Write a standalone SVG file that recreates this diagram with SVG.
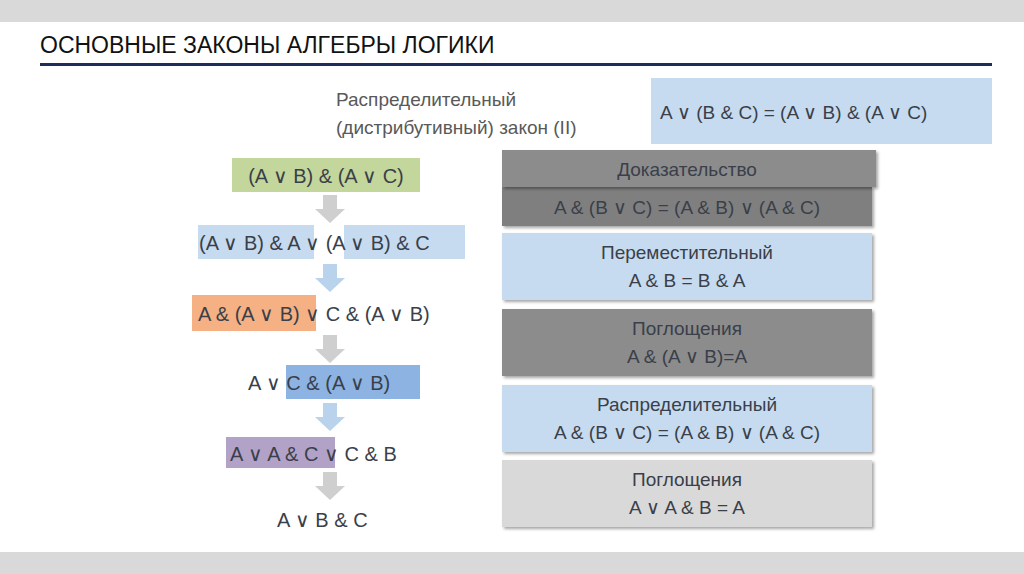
<svg xmlns="http://www.w3.org/2000/svg" width="1024" height="574" viewBox="0 0 1024 574">
<defs>
<style>
text{font-family:"Liberation Sans",Arial,sans-serif;fill:#3a3f4a}
.c{font-size:20px}
.r{font-size:19px;text-anchor:middle}
</style>
<path id="arr" d="M-7,0 H7 V14 H15 L0,28 L-15,14 H-7 Z"/>
<filter id="sh" x="-5%" y="-10%" width="115%" height="130%"><feDropShadow dx="2" dy="2" stdDeviation="1.5" flood-opacity="0.35"/></filter>
</defs>
<rect width="1024" height="574" fill="#fff"/>
<rect width="1024" height="22" fill="#d9d9d9"/>
<rect y="552" width="1024" height="22" fill="#d9d9d9"/>
<text x="40" y="53" style="font-size:23px;fill:#111">ОСНОВНЫЕ ЗАКОНЫ АЛГЕБРЫ ЛОГИКИ</text>
<rect x="40" y="63" width="952" height="3" fill="#1f2d5a"/>
<g id="law-title"><text x="336" y="106" style="font-size:19px;fill:#595959">Распределительный</text><text x="336" y="134" style="font-size:19px;fill:#595959">(дистрибутивный) закон (II)</text></g>
<g id="law-box"><rect x="651" y="78" width="341" height="66" fill="#c6dbef"/><text x="660" y="119" style="font-size:19px">A ∨ (B &amp; C) = (A ∨ B) &amp; (A ∨ C)</text></g>
<g id="chain">
<rect x="232" y="158" width="188" height="34" fill="#c3d69b"/>
<text class="c" x="326" y="183" text-anchor="middle">(A ∨ B) &amp; (A ∨ C)</text>
<rect x="198" y="225" width="116" height="34" fill="#c6dbef"/>
<rect x="344" y="225" width="121" height="34" fill="#c6dbef"/>
<text class="c" x="199" y="250">(A ∨ B) &amp; A ∨ (A ∨ B) &amp; C</text>
<rect x="192" y="295" width="124" height="36" fill="#f5b183"/>
<text class="c" x="198" y="321">A &amp; (A ∨ B) ∨ C &amp; (A ∨ B)</text>
<rect x="286" y="365" width="134" height="34" fill="#8db3e2"/>
<text class="c" x="248" y="390">A ∨ C &amp; (A ∨ B)</text>
<rect x="226" y="437" width="109" height="31" fill="#b3a2c7"/>
<text class="c" x="230" y="461">A ∨ A &amp; C ∨ C &amp; B</text>
<text class="c" x="277" y="527">A ∨ B &amp; C</text>
</g>
<g id="arrows">
<use href="#arr" x="330" y="195" fill="#cfcfcf"/>
<use href="#arr" x="330" y="264" fill="#b9d3ec"/>
<use href="#arr" x="330" y="335" fill="#cfcfcf"/>
<use href="#arr" x="330" y="403" fill="#b9d3ec"/>
<use href="#arr" x="330" y="472" fill="#cfcfcf"/>
</g>
<g id="proof">
<rect x="502" y="186" width="370" height="40" fill="#7f7f7f" filter="url(#sh)"/>
<text class="r" x="687" y="214">A &amp; (B ∨ C) = (A &amp; B) ∨ (A &amp; C)</text>
<rect x="502" y="150" width="374" height="37" fill="#8c8c8c" filter="url(#sh)"/>
<text class="r" x="687" y="176">Доказательство</text>
</g>
<g id="commut"><rect x="502" y="233" width="370" height="67" fill="#c6dbef" filter="url(#sh)"/><text class="r" x="687" y="259">Переместительный</text><text class="r" x="687" y="287">A &amp; B = B &amp; A</text></g>
<g id="absorb1"><rect x="502" y="309" width="370" height="67" fill="#8c8c8c" filter="url(#sh)"/><text class="r" x="687" y="335">Поглощения</text><text class="r" x="687" y="363">A &amp; (A ∨ B)=A</text></g>
<g id="distr"><rect x="502" y="385" width="370" height="67" fill="#c6dbef" filter="url(#sh)"/><text class="r" x="687" y="411">Распределительный</text><text class="r" x="687" y="439">A &amp; (B ∨ C) = (A &amp; B) ∨ (A &amp; C)</text></g>
<g id="absorb2"><rect x="502" y="460" width="370" height="67" fill="#d9d9d9" filter="url(#sh)"/><text class="r" x="687" y="486">Поглощения</text><text class="r" x="687" y="514">A ∨ A &amp; B = A</text></g>
</svg>
